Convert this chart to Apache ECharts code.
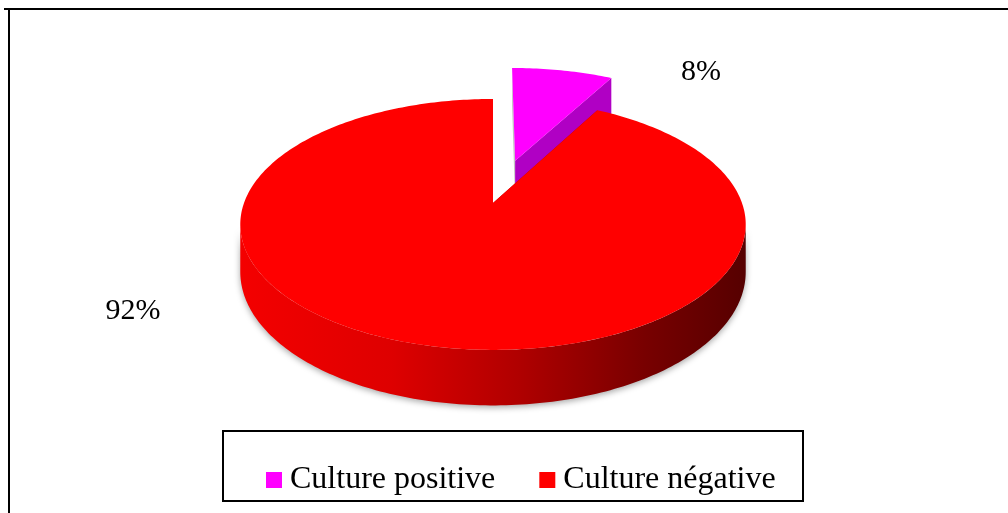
<!DOCTYPE html>
<html>
<head>
<meta charset="utf-8">
<script src="https://cdn.jsdelivr.net/npm/echarts@6/dist/echarts.min.js"></script>
<style>
  html, body { margin: 0; padding: 0; background: #fff; }
  #chart { width: 1008px; height: 513px; }
</style>
</head>
<body>
<div id="chart"></div>
<script>
// Categories and their shares (percent)
const categories = ['Culture positive', 'Culture négative'];
const values = [8, 92];

// Slice colours: top face, cut face
const topColors = ['#ff00ff', '#ff0000'];
const cutColors = ['#b000c4', '#a00000'];

// 3D disc geometry (screen space)
const G = {
  cx: 493, cy: 203,      // projected centre of the disc
  rx: 249, ry: 121.8,    // radii of the projected rim
  p: 0.171,              // perspective strength
  depth: 46,             // extrusion height
  explode: [0.38, 0]     // slice offsets, in radius units
};
// label anchors for each slice
const labelPos = [[701, 72], [133, 311]];

const total = values.reduce((a, b) => a + b, 0);
const DEG = Math.PI / 180;

function proj(u, v) {
  const k = 1 + G.p * v;
  return [G.cx + G.rx * u / k, G.cy - G.ry * v / k];
}
function drop(v) { return G.depth / (1 + G.p * v); }

function slice(i) {
  let start = 0;
  for (let j = 0; j < i; j++) start += values[j] / total * 360;
  const end = start + values[i] / total * 360;
  const mid = (start + end) / 2 * DEG;
  const e = G.explode[i];
  return { start, end, ou: e * Math.sin(mid), ov: e * Math.cos(mid) };
}

function rimPoint(s, deg) {
  const u = Math.sin(deg * DEG) + s.ou, v = Math.cos(deg * DEG) + s.ov;
  const pt = proj(u, v);
  return { top: pt, bot: [pt[0], pt[1] + drop(v)] };
}

function arcPoints(s, a0, a1) {
  const pts = [];
  const n = Math.max(2, Math.ceil(Math.abs(a1 - a0)));
  for (let k = 0; k <= n; k++) pts.push(rimPoint(s, a0 + (a1 - a0) * k / n));
  return pts;
}

function renderSlice(i) {
  return function (params, api) {
    const s = slice(i);
    const apexTop = proj(s.ou, s.ov);
    const apexBot = [apexTop[0], apexTop[1] + drop(s.ov)];
    const children = [];

    // cut faces along both radial edges
    const edges = [s.start, s.end];
    edges.forEach(function (a, idx) {
      const r = rimPoint(s, a);
      const isStart = idx === 0;
      children.push({
        type: 'polygon',
        shape: { points: [apexTop, r.top, r.bot, apexBot] },
        style: { fill: (i === 0 && isStart) ? '#c4c4c4' : cutColors[i] }
      });
    });

    // outer wall, only the part that faces the viewer
    const lim = Math.acos(-G.p) / DEG;
    const w0 = Math.max(s.start, lim), w1 = Math.min(s.end, 360 - lim);
    if (w1 > w0) {
      const arc = arcPoints(s, w0, w1);
      const pts = arc.map(r => r.top).concat(arc.slice().reverse().map(r => r.bot));
      children.push({
        type: 'polygon',
        shape: { points: pts },
        style: {
          fill: new echarts.graphic.LinearGradient(0, 0, 1, 0, [
            { offset: 0, color: '#f40000' },
            { offset: 0.3, color: '#de0000' },
            { offset: 0.55, color: '#b00000' },
            { offset: 0.8, color: '#780000' },
            { offset: 1, color: '#560000' }
          ]),
          shadowBlur: 6,
          shadowColor: 'rgba(0,0,0,0.35)',
          shadowOffsetY: 2
        }
      });
    }

    // top face
    const arc = arcPoints(s, s.start, s.end).map(r => r.top);
    children.push({
      type: 'polygon',
      shape: { points: [apexTop].concat(arc) },
      style: { fill: topColors[i] }
    });

    // percentage label
    children.push({
      type: 'text',
      x: labelPos[i][0], y: labelPos[i][1],
      style: {
        text: Math.round(values[i] / total * 100) + '%',
        fill: '#000',
        font: '30px "Liberation Serif", "Times New Roman", serif',
        align: 'center',
        verticalAlign: 'middle'
      }
    });

    return { type: 'group', children: children };
  };
}

const chart = echarts.init(document.getElementById('chart'), null, { renderer: 'canvas' });

chart.setOption({
  animation: false,
  backgroundColor: '#ffffff',
  legend: {
    data: categories,
    left: 266,
    top: 464,
    padding: 0,
    icon: 'rect',
    itemWidth: 16,
    itemHeight: 16,
    itemGap: 44,
    textStyle: {
      fontFamily: '"Liberation Serif", "Times New Roman", serif',
      fontSize: 32,
      color: '#000',
      padding: [0, 0, 0, 3]
    },
    selectedMode: false
  },
  graphic: [
    { type: 'line', shape: { x1: 4, y1: 9, x2: 1008, y2: 9 }, style: { stroke: '#000', lineWidth: 2 } },
    { type: 'line', shape: { x1: 9, y1: 8, x2: 9, y2: 513 }, style: { stroke: '#000', lineWidth: 2 } },
    { type: 'rect', shape: { x: 223, y: 431, width: 580, height: 70 }, style: { fill: 'none', stroke: '#000', lineWidth: 2 } }
  ],
  series: categories.map(function (name, i) {
    return {
      type: 'custom',
      name: name,
      coordinateSystem: 'none',
      itemStyle: { color: topColors[i] },
      data: [[values[i]]],
      renderItem: renderSlice(i)
    };
  })
});
</script>
</body>
</html>
